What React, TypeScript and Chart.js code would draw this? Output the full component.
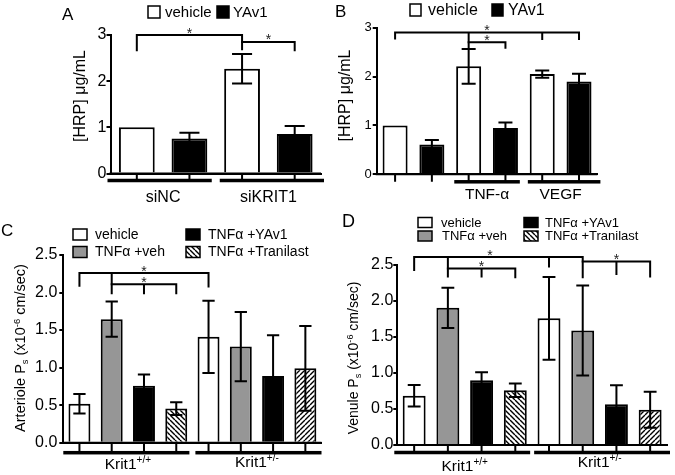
import React, { useEffect, useRef } from 'react';
import { Chart, registerables } from 'chart.js';

Chart.register(...registerables);

const FONT = '"Liberation Sans", Arial, Helvetica, sans-serif';

// ---------------- Panel A data ----------------
const aGroups = ['siNC', 'siKRIT1'];
const aSeriesNames = ['vehicle', 'YAv1'];
const aVehicle = [1.0, 2.27];
const aVehicleErr = [0, 0.32];
const aYAv1 = [0.76, 0.855];
const aYAv1Err = [0.12, 0.175];
const aYTicks = [0, 1, 2, 3];
const aTitle = '[HRP] μg/mL';

// ---------------- Panel B data ----------------
const bGroups = ['', 'TNF-α', 'VEGF'];
const bSeriesNames = ['vehicle', 'YAv1'];
const bVehicle = [1.0, 2.21, 2.05];
const bVehicleErr = [0, 0.355, 0.075];
const bYAv1 = [0.61, 0.95, 1.9];
const bYAv1Err = [0.09, 0.11, 0.16];
const bYTicks = [0, 1, 2, 3];

// ---------------- Panels C / D data ----------------
const cdGroups = ['Krit1', 'Krit1'];
const cdGroupSups = ['+/+', '+/-'];
const cdSeriesNames = ['vehicle', 'TNFα +veh', 'TNFα +YAv1', 'TNFα +Tranilast'];
const cdYTicks = [0, 0.5, 1.0, 1.5, 2.0, 2.5];

const cVehicle = [0.52, 1.41];
const cVehicleErr = [0.13, 0.48];
const cTnfVeh = [1.645, 1.28];
const cTnfVehErr = [0.235, 0.46];
const cTnfYAv1 = [0.76, 0.89];
const cTnfYAv1Err = [0.15, 0.54];
const cTnfTranilast = [0.455, 0.99];
const cTnfTranilastErr = [0.085, 0.565];

const dVehicle = [0.685, 1.76];
const dVehicleErr = [0.15, 0.575];
const dTnfVeh = [1.905, 1.59];
const dTnfVehErr = [0.28, 0.625];
const dTnfYAv1 = [0.9, 0.565];
const dTnfYAv1Err = [0.11, 0.265];
const dTnfTranilast = [0.76, 0.49];
const dTnfTranilastErr = [0.095, 0.25];

// Significance brackets: bar indices (group-major) and levels in data units
type Bracket = { from: number; to: number; level: number; drops: [number, number][]; star?: number };
const aBrackets: Bracket[] = [
  { from: 0, to: 2, level: 3.0, drops: [[0, 2.67], [2, 2.69]] },
  { from: 2, to: 3, level: 2.85, drops: [[3, 2.67]] },
];
const bBrackets: Bracket[] = [
  { from: 0, to: 5, level: 2.9, drops: [[0, 2.78], [2, 2.58], [4, 2.77], [5, 2.77]] },
  { from: 2, to: 3, level: 2.7, drops: [[3, 2.59]] },
];
const cBrackets: Bracket[] = [
  { from: 0, to: 4, level: 2.26, drops: [[0, 2.09], [1, 1.99], [4, 2.08]] },
  { from: 1, to: 3, level: 2.11, drops: [[2, 1.99], [3, 1.99]] },
];
const dBrackets: Bracket[] = [
  { from: 0, to: 5, level: 2.61, drops: [[0, 2.43], [1, 2.34], [4, 2.48], [5, 2.33]], star: 2.25 },
  { from: 1, to: 3, level: 2.45, drops: [[2, 2.34], [3, 2.33]] },
  { from: 5, to: 7, level: 2.55, drops: [[6, 2.375], [7, 2.34]] },
];

// ---------------- types & helpers ----------------
type FillKey = 'white' | 'black' | 'grey' | 'hatchBack' | 'hatchFwd';
type Seg = { t: string; sub?: boolean; sup?: boolean };
interface SeriesDef { values: number[]; errors: number[]; fill: FillKey[] }
interface LegendItem { label: string; fill: FillKey; box: [number, number, number, number]; textX: number }
interface Panel {
  letter: string; letterPos: [number, number]; letterSize: number;
  box: { x: number; y: number; w: number; h: number };
  area: { l: number; r: number; t: number; b: number };
  groups: string[]; groupSups: string[]; groupBaselines: number[]; groupFont: number;
  groupLineDy: number; groupLineExt: number; groupLineGap: number;
  series: SeriesDef[];
  yTicks: number[]; decimals: number; tickSize: number; tickPad: number;
  yTitle: Seg[]; yTitlePos: [number, number]; yTitleSize: number;
  legend: LegendItem[]; legendFont: number;
  brackets: Bracket[];
}

function makeHatch(dir: 'back' | 'fwd'): CanvasPattern | string {
  const s = 5;
  const c = document.createElement('canvas');
  c.width = s; c.height = s;
  const g = c.getContext('2d');
  if (!g) return '#fff';
  g.fillStyle = '#fff';
  g.fillRect(0, 0, s, s);
  g.strokeStyle = '#000';
  g.lineWidth = 1.4;
  g.beginPath();
  for (const o of [-s, 0, s]) {
    if (dir === 'back') { g.moveTo(o, 0); g.lineTo(o + s, s); }
    else { g.moveTo(o, s); g.lineTo(o + s, 0); }
  }
  g.stroke();
  return g.createPattern(c, 'repeat') || '#fff';
}

function drawRich(ctx: CanvasRenderingContext2D, segs: Seg[], x: number, y: number, size: number, align: 'center' | 'left') {
  const parts = segs.map(s => {
    const fs = s.sub || s.sup ? size * 0.65 : size;
    ctx.font = `${fs}px ${FONT}`;
    return { s, fs, w: ctx.measureText(s.t).width };
  });
  const total = parts.reduce((a, p) => a + p.w, 0);
  let cx = align === 'center' ? x - total / 2 : x;
  ctx.textBaseline = 'alphabetic';
  ctx.textAlign = 'left';
  for (const p of parts) {
    ctx.font = `${p.fs}px ${FONT}`;
    const dy = p.s.sub ? size * 0.22 : p.s.sup ? -size * 0.36 : 0;
    ctx.fillText(p.s.t, cx, y + dy);
    cx += p.w;
  }
}

function panelPlugin(p: Panel, fills: Record<FillKey, any>) {
  const nS = p.series.length;
  const barEl = (chart: any, k: number) => chart.getDatasetMeta(k % nS).data[Math.floor(k / nS)];
  const barX = (chart: any, k: number) => {
    const i0 = Math.floor(k), i1 = Math.ceil(k);
    const x0 = barEl(chart, i0).x, x1 = barEl(chart, i1).x;
    return x0 + (x1 - x0) * (k - i0);
  };
  return {
    id: 'panel' + p.letter,
    afterDatasetsDraw(chart: any) {
      const ctx: CanvasRenderingContext2D = chart.ctx;
      const ys = chart.scales.y;
      ctx.save();
      ctx.strokeStyle = '#000';
      ctx.lineWidth = 2;
      p.series.forEach((s, si) => {
        const meta = chart.getDatasetMeta(si);
        s.values.forEach((v, gi) => {
          const e = s.errors[gi];
          if (!e) return;
          const el: any = meta.data[gi];
          const x = el.x;
          const cap = (el.width * 0.56) / 2;
          const yt = ys.getPixelForValue(v + e);
          const yb = ys.getPixelForValue(v - e);
          ctx.beginPath();
          ctx.moveTo(x, yb); ctx.lineTo(x, yt);
          ctx.moveTo(x - cap, yt); ctx.lineTo(x + cap, yt);
          ctx.moveTo(x - cap, yb); ctx.lineTo(x + cap, yb);
          ctx.stroke();
        });
      });
      ctx.restore();
    },
    afterDraw(chart: any) {
      const ctx: CanvasRenderingContext2D = chart.ctx;
      const ys = chart.scales.y;
      const xs = chart.scales.x;
      const ca = chart.chartArea;
      const ox = p.box.x, oy = p.box.y;
      ctx.save();
      ctx.fillStyle = '#000';
      ctx.strokeStyle = '#000';

      // x axis line redrawn on top of bar bottoms
      ctx.lineWidth = 2;
      ctx.beginPath();
      ctx.moveTo(ca.left - 1, ca.bottom);
      ctx.lineTo(ca.right, ca.bottom);
      ctx.stroke();

      // panel letter
      ctx.font = `${p.letterSize}px ${FONT}`;
      ctx.textAlign = 'left';
      ctx.textBaseline = 'alphabetic';
      ctx.fillText(p.letter, p.letterPos[0] - ox, p.letterPos[1] - oy);

      // legend
      for (const it of p.legend) {
        const [bx, by, bw, bh] = it.box;
        ctx.fillStyle = fills[it.fill];
        ctx.fillRect(bx - ox, by - oy, bw, bh);
        ctx.lineWidth = 1.5;
        ctx.strokeStyle = '#000';
        ctx.strokeRect(bx - ox, by - oy, bw, bh);
        ctx.fillStyle = '#000';
        ctx.font = `${p.legendFont}px ${FONT}`;
        ctx.textBaseline = 'middle';
        ctx.textAlign = 'left';
        ctx.fillText(it.label, it.textX - ox, by - oy + bh / 2 + 0.5);
      }

      // y title
      ctx.save();
      ctx.translate(p.yTitlePos[0] - ox, p.yTitlePos[1] - oy);
      ctx.rotate(-Math.PI / 2);
      ctx.fillStyle = '#000';
      drawRich(ctx, p.yTitle, 0, p.yTitleSize * 0.36, p.yTitleSize, 'center');
      ctx.restore();

      // x ticks at bar centers
      const nBars = p.groups.length * nS;
      ctx.lineWidth = 2;
      ctx.beginPath();
      for (let k = 0; k < nBars; k++) {
        const x = barEl(chart, k).x;
        ctx.moveTo(x, ca.bottom);
        ctx.lineTo(x, ca.bottom + p.groupLineDy);
      }
      ctx.stroke();

      // group lines and labels
      const catW = (ca.right - ca.left) / p.groups.length;
      p.groups.forEach((g, gi) => {
        if (!g) return;
        const cStart = xs.getPixelForValue(gi) - catW / 2;
        const cEnd = cStart + catW;
        const left = gi === 0 ? ca.left - p.groupLineExt : cStart + p.groupLineGap;
        const right = gi === p.groups.length - 1 ? ca.right + p.groupLineExt : cEnd - p.groupLineGap;
        ctx.fillStyle = '#000';
        ctx.fillRect(left, ca.bottom + p.groupLineDy - 1.75, right - left, 3.5);
        const segs: Seg[] = [{ t: g }];
        if (p.groupSups[gi]) segs.push({ t: p.groupSups[gi], sup: true });
        drawRich(ctx, segs, (cStart + cEnd) / 2, p.groupBaselines[gi] - oy, p.groupFont, 'center');
      });

      // brackets
      ctx.lineWidth = 2;
      ctx.lineCap = 'square';
      for (const br of p.brackets) {
        const yl = ys.getPixelForValue(br.level);
        ctx.beginPath();
        ctx.moveTo(barX(chart, br.from), yl);
        ctx.lineTo(barX(chart, br.to), yl);
        for (const [k, v] of br.drops) {
          const x = barX(chart, k);
          ctx.moveTo(x, yl);
          ctx.lineTo(x, ys.getPixelForValue(v));
        }
        ctx.stroke();
        const sk = br.star !== undefined ? br.star : (br.from + br.to) / 2;
        ctx.font = `14px ${FONT}`;
        ctx.textAlign = 'center';
        ctx.textBaseline = 'alphabetic';
        ctx.fillStyle = '#222';
        ctx.fillText('*', barX(chart, sk), yl + 2.5);
      }
      ctx.restore();
    },
  };
}

function buildConfig(p: Panel) {
  const fills: Record<FillKey, any> = {
    white: '#ffffff',
    black: '#000000',
    grey: '#969696',
    hatchBack: makeHatch('back'),
    hatchFwd: makeHatch('fwd'),
  };
  const padTop = p.area.t - p.box.y;
  const padBottom = p.box.y + p.box.h - p.area.b;
  const padRight = p.box.x + p.box.w - p.area.r;
  const yWidth = p.area.l - p.box.x;
  return {
    type: 'bar',
    data: {
      labels: p.groups,
      datasets: p.series.map((s, i) => ({
        label: 'S' + i,
        data: s.values,
        backgroundColor: s.fill.map(f => fills[f]),
        borderColor: '#000',
        borderWidth: 2,
        borderSkipped: 'start',
        inflateAmount: 0,
        barPercentage: 0.68,
        categoryPercentage: 1,
      })),
    },
    options: {
      responsive: false,
      animation: false,
      events: [],
      layout: { autoPadding: false, padding: { left: 0, top: padTop, right: padRight, bottom: padBottom } },
      plugins: { legend: { display: false }, tooltip: { enabled: false }, title: { display: false } },
      scales: {
        x: {
          grid: { display: false },
          border: { display: true, color: '#000', width: 2 },
          ticks: { display: false },
          afterFit: (s: any) => { s.height = 0; },
        },
        y: {
          min: p.yTicks[0],
          max: p.yTicks[p.yTicks.length - 1],
          afterFit: (s: any) => { s.width = yWidth; },
          ticks: {
            stepSize: p.yTicks[1] - p.yTicks[0],
            color: '#000',
            padding: p.tickPad,
            font: { family: FONT, size: p.tickSize },
            callback: (v: any) => Number(v).toFixed(p.decimals),
          },
          grid: { drawOnChartArea: false, drawTicks: true, tickLength: 4, color: '#000', lineWidth: 2 },
          border: { display: true, color: '#000', width: 2 },
        },
      },
    },
    plugins: [panelPlugin(p, fills)],
  };
}

const panelA: Panel = {
  letter: 'A', letterPos: [62, 19.5], letterSize: 17,
  box: { x: 0, y: 0, w: 335, h: 210 },
  area: { l: 110.5, r: 321, t: 35, b: 173.5 },
  groups: aGroups, groupSups: ['', ''], groupBaselines: [202, 202], groupFont: 16,
  groupLineDy: 7, groupLineExt: 3, groupLineGap: 4,
  series: [
    { values: aVehicle, errors: aVehicleErr, fill: ['white', 'white'] },
    { values: aYAv1, errors: aYAv1Err, fill: ['black', 'black'] },
  ],
  yTicks: aYTicks, decimals: 0, tickSize: 16, tickPad: 0,
  yTitle: [{ t: aTitle }], yTitlePos: [79, 96], yTitleSize: 16,
  legend: [
    { label: aSeriesNames[0], fill: 'white', box: [148, 6, 12, 12], textX: 165 },
    { label: aSeriesNames[1], fill: 'black', box: [217, 6, 12, 12], textX: 233 },
  ],
  legendFont: 15,
  brackets: aBrackets,
};

const panelB: Panel = {
  letter: 'B', letterPos: [335, 16.5], letterSize: 17,
  box: { x: 335, y: 0, w: 340, h: 210 },
  area: { l: 376.7, r: 597.4, t: 27.7, b: 174.3 },
  groups: bGroups, groupSups: ['', '', ''], groupBaselines: [198.5, 198.5, 198.5], groupFont: 15.5,
  groupLineDy: 7.5, groupLineExt: 3, groupLineGap: 4,
  series: [
    { values: bVehicle, errors: bVehicleErr, fill: ['white', 'white', 'white'] },
    { values: bYAv1, errors: bYAv1Err, fill: ['black', 'black', 'black'] },
  ],
  yTicks: bYTicks, decimals: 0, tickSize: 13, tickPad: 1,
  yTitle: [{ t: aTitle }], yTitlePos: [344, 95.5], yTitleSize: 16,
  legend: [
    { label: bSeriesNames[0], fill: 'white', box: [410, 4, 11, 12], textX: 428 },
    { label: bSeriesNames[1], fill: 'black', box: [492, 4, 11, 12], textX: 508 },
  ],
  legendFont: 16,
  brackets: bBrackets,
};

const panelC: Panel = {
  letter: 'C', letterPos: [1, 235.5], letterSize: 17,
  box: { x: 0, y: 210, w: 335, h: 265 },
  area: { l: 63.3, r: 321.5, t: 255, b: 442.7 },
  groups: cdGroups, groupSups: cdGroupSups, groupBaselines: [468.5, 467], groupFont: 15.5,
  groupLineDy: 10, groupLineExt: 0, groupLineGap: 3,
  series: [
    { values: cVehicle, errors: cVehicleErr, fill: ['white', 'white'] },
    { values: cTnfVeh, errors: cTnfVehErr, fill: ['grey', 'grey'] },
    { values: cTnfYAv1, errors: cTnfYAv1Err, fill: ['black', 'black'] },
    { values: cTnfTranilast, errors: cTnfTranilastErr, fill: ['hatchBack', 'hatchFwd'] },
  ],
  yTicks: cdYTicks, decimals: 1, tickSize: 16, tickPad: 2,
  yTitle: [{ t: 'Arteriole P' }, { t: 's', sub: true }, { t: ' (x10' }, { t: '-6', sup: true }, { t: ' cm/sec)' }],
  yTitlePos: [20, 348], yTitleSize: 14.5,
  legend: [
    { label: cdSeriesNames[0], fill: 'white', box: [73, 229, 14, 11], textX: 95 },
    { label: cdSeriesNames[1], fill: 'grey', box: [73, 246.5, 14, 11], textX: 95 },
    { label: cdSeriesNames[2], fill: 'black', box: [186, 229, 14, 11], textX: 208 },
    { label: cdSeriesNames[3], fill: 'hatchBack', box: [186, 246.5, 14, 11], textX: 208 },
  ],
  legendFont: 14,
  brackets: cBrackets,
};

const panelD: Panel = {
  letter: 'D', letterPos: [342, 227], letterSize: 18,
  box: { x: 335, y: 210, w: 340, h: 265 },
  area: { l: 397.3, r: 667, t: 265, b: 445 },
  groups: cdGroups, groupSups: cdGroupSups, groupBaselines: [471, 467], groupFont: 15.5,
  groupLineDy: 7.5, groupLineExt: 3, groupLineGap: 2,
  series: [
    { values: dVehicle, errors: dVehicleErr, fill: ['white', 'white'] },
    { values: dTnfVeh, errors: dTnfVehErr, fill: ['grey', 'grey'] },
    { values: dTnfYAv1, errors: dTnfYAv1Err, fill: ['black', 'black'] },
    { values: dTnfTranilast, errors: dTnfTranilastErr, fill: ['hatchBack', 'hatchFwd'] },
  ],
  yTicks: cdYTicks, decimals: 1, tickSize: 16, tickPad: 0,
  yTitle: [{ t: 'Venule P' }, { t: 's', sub: true }, { t: ' (x10' }, { t: '-6', sup: true }, { t: ' cm/sec)' }],
  yTitlePos: [353, 358], yTitleSize: 14,
  legend: [
    { label: cdSeriesNames[0], fill: 'white', box: [418, 217.5, 14, 10], textX: 441 },
    { label: cdSeriesNames[1], fill: 'grey', box: [418, 231, 14, 10], textX: 442 },
    { label: cdSeriesNames[2], fill: 'black', box: [524, 217.5, 14, 10], textX: 545 },
    { label: cdSeriesNames[3], fill: 'hatchBack', box: [524, 231, 14, 10], textX: 545 },
  ],
  legendFont: 13,
  brackets: dBrackets,
};

function PanelChart({ p }: { p: Panel }) {
  const ref = useRef<HTMLCanvasElement>(null);
  useEffect(() => {
    if (!ref.current) return;
    const chart = new Chart(ref.current, buildConfig(p) as any);
    return () => chart.destroy();
  }, [p]);
  return (
    <canvas
      ref={ref}
      width={p.box.w}
      height={p.box.h}
      style={{ position: 'absolute', left: p.box.x, top: p.box.y, width: p.box.w, height: p.box.h }}
    />
  );
}

export default function App() {
  return (
    <div style={{ position: 'absolute', left: 0, top: 0, width: 675, height: 475, background: '#fff', overflow: 'hidden' }}>
      <PanelChart p={panelA} />
      <PanelChart p={panelB} />
      <PanelChart p={panelC} />
      <PanelChart p={panelD} />
    </div>
  );
}
